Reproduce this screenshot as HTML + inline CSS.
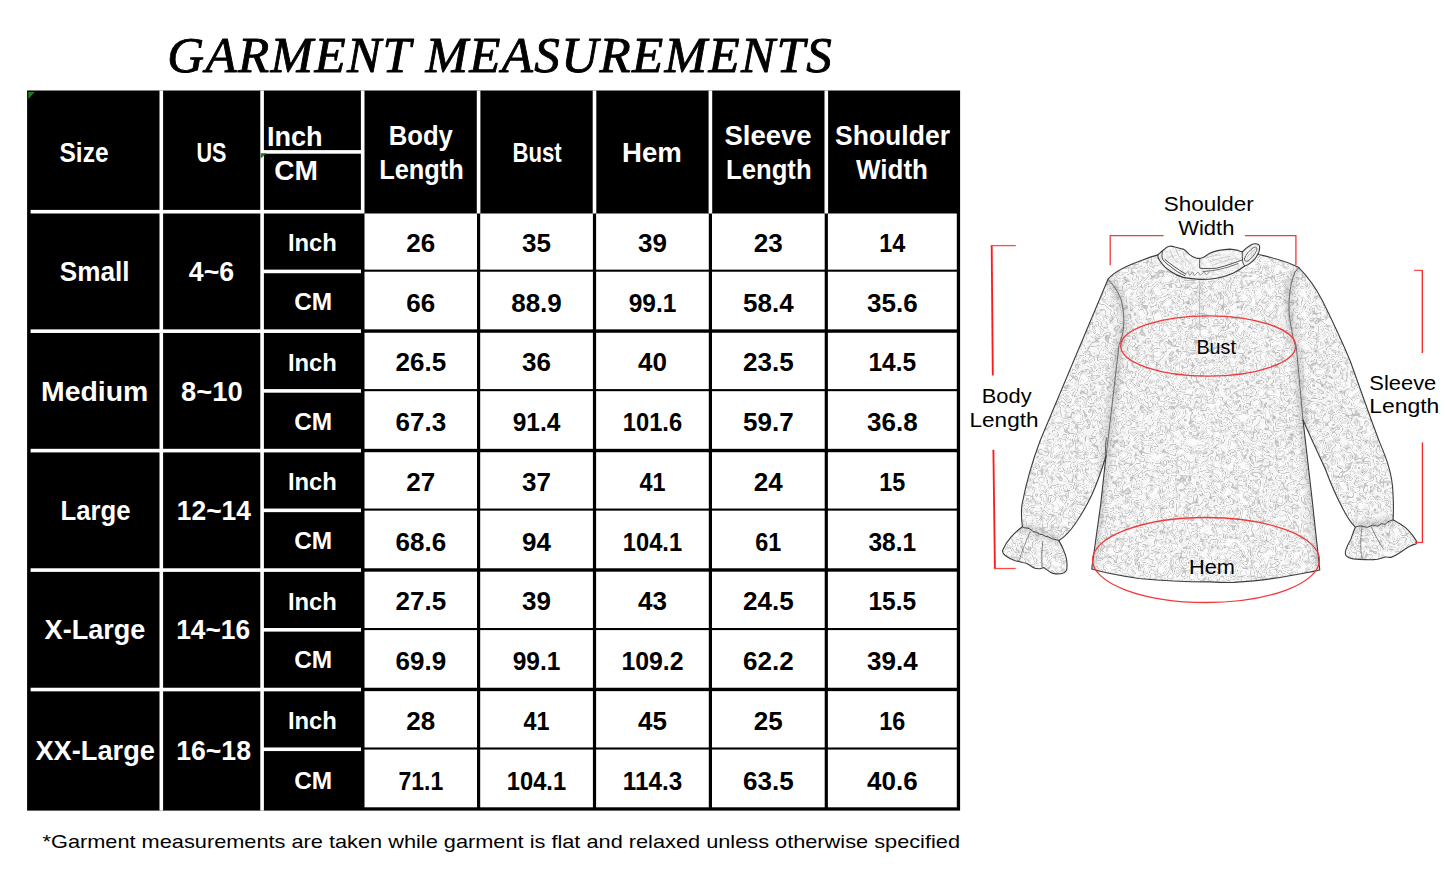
<!DOCTYPE html>
<html><head><meta charset="utf-8"><title>Garment Measurements</title>
<style>
html,body{margin:0;padding:0;background:#fff;}
body{width:1445px;height:893px;overflow:hidden;position:relative;font-family:"Liberation Sans",sans-serif;}
svg{position:absolute;left:0;top:0;}
svg text{font-family:"Liberation Sans",sans-serif;}
svg text.ser{font-family:"Liberation Serif",serif;}
</style></head><body>
<svg width="1445" height="893" viewBox="0 0 1445 893">
<text class="ser" x="167.2" y="72.2" font-size="51" font-style="italic" fill="#000" stroke="#000" stroke-width="0.9" stroke-linejoin="round" textLength="664.5" lengthAdjust="spacing">GARMENT MEASUREMENTS</text>
<rect x="27.1" y="90.5" width="933.0" height="720.1" fill="#000"/>
<rect x="159.50" y="90.5" width="3.6" height="720.10" fill="#fff"/>
<rect x="260.30" y="90.5" width="3.6" height="720.10" fill="#fff"/>
<rect x="360.90" y="90.5" width="3.6" height="123.00" fill="#fff"/>
<rect x="476.80" y="90.5" width="3.6" height="123.00" fill="#fff"/>
<rect x="592.70" y="90.5" width="3.6" height="123.00" fill="#fff"/>
<rect x="708.60" y="90.5" width="3.6" height="123.00" fill="#fff"/>
<rect x="824.50" y="90.5" width="3.6" height="123.00" fill="#fff"/>
<rect x="262.10" y="150.10" width="100.60" height="3.6" fill="#fff"/>
<rect x="30.60" y="209.90" width="330.40" height="3.6" fill="#fff"/>
<rect x="262.10" y="269.63" width="98.90" height="3.6" fill="#fff"/>
<rect x="30.60" y="329.36" width="330.40" height="3.6" fill="#fff"/>
<rect x="262.10" y="389.09" width="98.90" height="3.6" fill="#fff"/>
<rect x="30.60" y="448.82" width="330.40" height="3.6" fill="#fff"/>
<rect x="262.10" y="508.55" width="98.90" height="3.6" fill="#fff"/>
<rect x="30.60" y="568.28" width="330.40" height="3.6" fill="#fff"/>
<rect x="262.10" y="628.01" width="98.90" height="3.6" fill="#fff"/>
<rect x="30.60" y="687.74" width="330.40" height="3.6" fill="#fff"/>
<rect x="262.10" y="747.47" width="98.90" height="3.6" fill="#fff"/>
<rect x="364.50" y="213.50" width="112.50" height="56.13" fill="#fff"/>
<rect x="480.20" y="213.50" width="112.70" height="56.13" fill="#fff"/>
<rect x="596.10" y="213.50" width="112.70" height="56.13" fill="#fff"/>
<rect x="712.00" y="213.50" width="112.70" height="56.13" fill="#fff"/>
<rect x="827.90" y="213.50" width="128.90" height="56.13" fill="#fff"/>
<rect x="364.50" y="271.73" width="112.50" height="57.63" fill="#fff"/>
<rect x="480.20" y="271.73" width="112.70" height="57.63" fill="#fff"/>
<rect x="596.10" y="271.73" width="112.70" height="57.63" fill="#fff"/>
<rect x="712.00" y="271.73" width="112.70" height="57.63" fill="#fff"/>
<rect x="827.90" y="271.73" width="128.90" height="57.63" fill="#fff"/>
<rect x="364.50" y="332.76" width="112.50" height="56.33" fill="#fff"/>
<rect x="480.20" y="332.76" width="112.70" height="56.33" fill="#fff"/>
<rect x="596.10" y="332.76" width="112.70" height="56.33" fill="#fff"/>
<rect x="712.00" y="332.76" width="112.70" height="56.33" fill="#fff"/>
<rect x="827.90" y="332.76" width="128.90" height="56.33" fill="#fff"/>
<rect x="364.50" y="391.19" width="112.50" height="57.63" fill="#fff"/>
<rect x="480.20" y="391.19" width="112.70" height="57.63" fill="#fff"/>
<rect x="596.10" y="391.19" width="112.70" height="57.63" fill="#fff"/>
<rect x="712.00" y="391.19" width="112.70" height="57.63" fill="#fff"/>
<rect x="827.90" y="391.19" width="128.90" height="57.63" fill="#fff"/>
<rect x="364.50" y="452.22" width="112.50" height="56.33" fill="#fff"/>
<rect x="480.20" y="452.22" width="112.70" height="56.33" fill="#fff"/>
<rect x="596.10" y="452.22" width="112.70" height="56.33" fill="#fff"/>
<rect x="712.00" y="452.22" width="112.70" height="56.33" fill="#fff"/>
<rect x="827.90" y="452.22" width="128.90" height="56.33" fill="#fff"/>
<rect x="364.50" y="510.65" width="112.50" height="57.63" fill="#fff"/>
<rect x="480.20" y="510.65" width="112.70" height="57.63" fill="#fff"/>
<rect x="596.10" y="510.65" width="112.70" height="57.63" fill="#fff"/>
<rect x="712.00" y="510.65" width="112.70" height="57.63" fill="#fff"/>
<rect x="827.90" y="510.65" width="128.90" height="57.63" fill="#fff"/>
<rect x="364.50" y="571.68" width="112.50" height="56.33" fill="#fff"/>
<rect x="480.20" y="571.68" width="112.70" height="56.33" fill="#fff"/>
<rect x="596.10" y="571.68" width="112.70" height="56.33" fill="#fff"/>
<rect x="712.00" y="571.68" width="112.70" height="56.33" fill="#fff"/>
<rect x="827.90" y="571.68" width="128.90" height="56.33" fill="#fff"/>
<rect x="364.50" y="630.11" width="112.50" height="57.63" fill="#fff"/>
<rect x="480.20" y="630.11" width="112.70" height="57.63" fill="#fff"/>
<rect x="596.10" y="630.11" width="112.70" height="57.63" fill="#fff"/>
<rect x="712.00" y="630.11" width="112.70" height="57.63" fill="#fff"/>
<rect x="827.90" y="630.11" width="128.90" height="57.63" fill="#fff"/>
<rect x="364.50" y="691.14" width="112.50" height="56.33" fill="#fff"/>
<rect x="480.20" y="691.14" width="112.70" height="56.33" fill="#fff"/>
<rect x="596.10" y="691.14" width="112.70" height="56.33" fill="#fff"/>
<rect x="712.00" y="691.14" width="112.70" height="56.33" fill="#fff"/>
<rect x="827.90" y="691.14" width="128.90" height="56.33" fill="#fff"/>
<rect x="364.50" y="749.57" width="112.50" height="57.73" fill="#fff"/>
<rect x="480.20" y="749.57" width="112.70" height="57.73" fill="#fff"/>
<rect x="596.10" y="749.57" width="112.70" height="57.73" fill="#fff"/>
<rect x="712.00" y="749.57" width="112.70" height="57.73" fill="#fff"/>
<rect x="827.90" y="749.57" width="128.90" height="57.73" fill="#fff"/>
<path d="M28.3 92 L34.8 92 L28.3 99 Z" fill="#1f7a1f"/>
<path d="M260.6 153.2 L266.5 153.2 L260.6 158.5 Z" fill="#1f7a1f"/>
<text x="84.0" y="162.0" font-size="27.5" fill="#fff" font-weight="bold" text-anchor="middle" textLength="49.0" lengthAdjust="spacingAndGlyphs">Size</text>
<text x="211.5" y="162.0" font-size="27.5" fill="#fff" font-weight="bold" text-anchor="middle" textLength="30.0" lengthAdjust="spacingAndGlyphs">US</text>
<text x="294.8" y="145.8" font-size="27.5" fill="#fff" font-weight="bold" text-anchor="middle" textLength="55.7" lengthAdjust="spacingAndGlyphs">Inch</text>
<text x="296.1" y="179.8" font-size="27.5" fill="#fff" font-weight="bold" text-anchor="middle" textLength="43.8" lengthAdjust="spacingAndGlyphs">CM</text>
<text x="420.8" y="145.2" font-size="27.5" fill="#fff" font-weight="bold" text-anchor="middle" textLength="64.2" lengthAdjust="spacingAndGlyphs">Body</text>
<text x="421.5" y="179.4" font-size="27.5" fill="#fff" font-weight="bold" text-anchor="middle" textLength="84.7" lengthAdjust="spacingAndGlyphs">Length</text>
<text x="537.1" y="161.8" font-size="27.5" fill="#fff" font-weight="bold" text-anchor="middle" textLength="49.3" lengthAdjust="spacingAndGlyphs">Bust</text>
<text x="652.0" y="162.0" font-size="27.5" fill="#fff" font-weight="bold" text-anchor="middle" textLength="59.8" lengthAdjust="spacingAndGlyphs">Hem</text>
<text x="768.0" y="145.2" font-size="27.5" fill="#fff" font-weight="bold" text-anchor="middle" textLength="87.2" lengthAdjust="spacingAndGlyphs">Sleeve</text>
<text x="768.8" y="179.4" font-size="27.5" fill="#fff" font-weight="bold" text-anchor="middle" textLength="85.6" lengthAdjust="spacingAndGlyphs">Length</text>
<text x="892.5" y="145.2" font-size="27.5" fill="#fff" font-weight="bold" text-anchor="middle" textLength="115.0" lengthAdjust="spacingAndGlyphs">Shoulder</text>
<text x="892.0" y="179.4" font-size="27.5" fill="#fff" font-weight="bold" text-anchor="middle" textLength="72.0" lengthAdjust="spacingAndGlyphs">Width</text>
<text x="94.7" y="281.0" font-size="27.5" fill="#fff" font-weight="bold" text-anchor="middle" textLength="69.7" lengthAdjust="spacingAndGlyphs">Small</text>
<text x="211.5" y="281.0" font-size="27.5" fill="#fff" font-weight="bold" text-anchor="middle" textLength="45.3" lengthAdjust="spacingAndGlyphs">4~6</text>
<text x="312.4" y="251.2" font-size="24" fill="#fff" font-weight="bold" text-anchor="middle" textLength="49.0" lengthAdjust="spacingAndGlyphs">Inch</text>
<text x="313.2" y="310.0" font-size="23" fill="#fff" font-weight="bold" text-anchor="middle" textLength="38.0" lengthAdjust="spacingAndGlyphs">CM</text>
<text x="420.8" y="251.9" font-size="26.5" fill="#000" font-weight="bold" text-anchor="middle" textLength="28.9" lengthAdjust="spacingAndGlyphs">26</text>
<text x="536.5" y="251.9" font-size="26.5" fill="#000" font-weight="bold" text-anchor="middle" textLength="28.9" lengthAdjust="spacingAndGlyphs">35</text>
<text x="652.5" y="251.9" font-size="26.5" fill="#000" font-weight="bold" text-anchor="middle" textLength="28.9" lengthAdjust="spacingAndGlyphs">39</text>
<text x="768.3" y="251.9" font-size="26.5" fill="#000" font-weight="bold" text-anchor="middle" textLength="28.9" lengthAdjust="spacingAndGlyphs">23</text>
<text x="892.3" y="251.9" font-size="26.5" fill="#000" font-weight="bold" text-anchor="middle" textLength="26.0" lengthAdjust="spacingAndGlyphs">14</text>
<text x="420.8" y="311.6" font-size="26.5" fill="#000" font-weight="bold" text-anchor="middle" textLength="28.9" lengthAdjust="spacingAndGlyphs">66</text>
<text x="536.5" y="311.6" font-size="26.5" fill="#000" font-weight="bold" text-anchor="middle" textLength="50.6" lengthAdjust="spacingAndGlyphs">88.9</text>
<text x="652.5" y="311.6" font-size="26.5" fill="#000" font-weight="bold" text-anchor="middle" textLength="47.7" lengthAdjust="spacingAndGlyphs">99.1</text>
<text x="768.3" y="311.6" font-size="26.5" fill="#000" font-weight="bold" text-anchor="middle" textLength="50.6" lengthAdjust="spacingAndGlyphs">58.4</text>
<text x="892.3" y="311.6" font-size="26.5" fill="#000" font-weight="bold" text-anchor="middle" textLength="50.6" lengthAdjust="spacingAndGlyphs">35.6</text>
<text x="94.6" y="400.5" font-size="27.5" fill="#fff" font-weight="bold" text-anchor="middle" textLength="107.2" lengthAdjust="spacingAndGlyphs">Medium</text>
<text x="211.8" y="400.5" font-size="27.5" fill="#fff" font-weight="bold" text-anchor="middle" textLength="61.6" lengthAdjust="spacingAndGlyphs">8~10</text>
<text x="312.4" y="370.6" font-size="24" fill="#fff" font-weight="bold" text-anchor="middle" textLength="49.0" lengthAdjust="spacingAndGlyphs">Inch</text>
<text x="313.2" y="429.5" font-size="23" fill="#fff" font-weight="bold" text-anchor="middle" textLength="38.0" lengthAdjust="spacingAndGlyphs">CM</text>
<text x="420.8" y="371.3" font-size="26.5" fill="#000" font-weight="bold" text-anchor="middle" textLength="50.6" lengthAdjust="spacingAndGlyphs">26.5</text>
<text x="536.5" y="371.3" font-size="26.5" fill="#000" font-weight="bold" text-anchor="middle" textLength="28.9" lengthAdjust="spacingAndGlyphs">36</text>
<text x="652.5" y="371.3" font-size="26.5" fill="#000" font-weight="bold" text-anchor="middle" textLength="28.9" lengthAdjust="spacingAndGlyphs">40</text>
<text x="768.3" y="371.3" font-size="26.5" fill="#000" font-weight="bold" text-anchor="middle" textLength="50.6" lengthAdjust="spacingAndGlyphs">23.5</text>
<text x="892.3" y="371.3" font-size="26.5" fill="#000" font-weight="bold" text-anchor="middle" textLength="47.7" lengthAdjust="spacingAndGlyphs">14.5</text>
<text x="420.8" y="431.1" font-size="26.5" fill="#000" font-weight="bold" text-anchor="middle" textLength="50.6" lengthAdjust="spacingAndGlyphs">67.3</text>
<text x="536.5" y="431.1" font-size="26.5" fill="#000" font-weight="bold" text-anchor="middle" textLength="47.7" lengthAdjust="spacingAndGlyphs">91.4</text>
<text x="652.5" y="431.1" font-size="26.5" fill="#000" font-weight="bold" text-anchor="middle" textLength="59.3" lengthAdjust="spacingAndGlyphs">101.6</text>
<text x="768.3" y="431.1" font-size="26.5" fill="#000" font-weight="bold" text-anchor="middle" textLength="50.6" lengthAdjust="spacingAndGlyphs">59.7</text>
<text x="892.3" y="431.1" font-size="26.5" fill="#000" font-weight="bold" text-anchor="middle" textLength="50.6" lengthAdjust="spacingAndGlyphs">36.8</text>
<text x="95.6" y="519.9" font-size="27.5" fill="#fff" font-weight="bold" text-anchor="middle" textLength="70.0" lengthAdjust="spacingAndGlyphs">Large</text>
<text x="213.9" y="519.9" font-size="27.5" fill="#fff" font-weight="bold" text-anchor="middle" textLength="74.2" lengthAdjust="spacingAndGlyphs">12~14</text>
<text x="312.4" y="490.1" font-size="24" fill="#fff" font-weight="bold" text-anchor="middle" textLength="49.0" lengthAdjust="spacingAndGlyphs">Inch</text>
<text x="313.2" y="548.9" font-size="23" fill="#fff" font-weight="bold" text-anchor="middle" textLength="38.0" lengthAdjust="spacingAndGlyphs">CM</text>
<text x="420.8" y="490.8" font-size="26.5" fill="#000" font-weight="bold" text-anchor="middle" textLength="28.9" lengthAdjust="spacingAndGlyphs">27</text>
<text x="536.5" y="490.8" font-size="26.5" fill="#000" font-weight="bold" text-anchor="middle" textLength="28.9" lengthAdjust="spacingAndGlyphs">37</text>
<text x="652.5" y="490.8" font-size="26.5" fill="#000" font-weight="bold" text-anchor="middle" textLength="26.0" lengthAdjust="spacingAndGlyphs">41</text>
<text x="768.3" y="490.8" font-size="26.5" fill="#000" font-weight="bold" text-anchor="middle" textLength="28.9" lengthAdjust="spacingAndGlyphs">24</text>
<text x="892.3" y="490.8" font-size="26.5" fill="#000" font-weight="bold" text-anchor="middle" textLength="26.0" lengthAdjust="spacingAndGlyphs">15</text>
<text x="420.8" y="550.5" font-size="26.5" fill="#000" font-weight="bold" text-anchor="middle" textLength="50.6" lengthAdjust="spacingAndGlyphs">68.6</text>
<text x="536.5" y="550.5" font-size="26.5" fill="#000" font-weight="bold" text-anchor="middle" textLength="28.9" lengthAdjust="spacingAndGlyphs">94</text>
<text x="652.5" y="550.5" font-size="26.5" fill="#000" font-weight="bold" text-anchor="middle" textLength="59.3" lengthAdjust="spacingAndGlyphs">104.1</text>
<text x="768.3" y="550.5" font-size="26.5" fill="#000" font-weight="bold" text-anchor="middle" textLength="26.0" lengthAdjust="spacingAndGlyphs">61</text>
<text x="892.3" y="550.5" font-size="26.5" fill="#000" font-weight="bold" text-anchor="middle" textLength="47.7" lengthAdjust="spacingAndGlyphs">38.1</text>
<text x="95.0" y="639.4" font-size="27.5" fill="#fff" font-weight="bold" text-anchor="middle" textLength="100.8" lengthAdjust="spacingAndGlyphs">X-Large</text>
<text x="213.1" y="639.4" font-size="27.5" fill="#fff" font-weight="bold" text-anchor="middle" textLength="73.9" lengthAdjust="spacingAndGlyphs">14~16</text>
<text x="312.4" y="609.5" font-size="24" fill="#fff" font-weight="bold" text-anchor="middle" textLength="49.0" lengthAdjust="spacingAndGlyphs">Inch</text>
<text x="313.2" y="668.4" font-size="23" fill="#fff" font-weight="bold" text-anchor="middle" textLength="38.0" lengthAdjust="spacingAndGlyphs">CM</text>
<text x="420.8" y="610.2" font-size="26.5" fill="#000" font-weight="bold" text-anchor="middle" textLength="50.6" lengthAdjust="spacingAndGlyphs">27.5</text>
<text x="536.5" y="610.2" font-size="26.5" fill="#000" font-weight="bold" text-anchor="middle" textLength="28.9" lengthAdjust="spacingAndGlyphs">39</text>
<text x="652.5" y="610.2" font-size="26.5" fill="#000" font-weight="bold" text-anchor="middle" textLength="28.9" lengthAdjust="spacingAndGlyphs">43</text>
<text x="768.3" y="610.2" font-size="26.5" fill="#000" font-weight="bold" text-anchor="middle" textLength="50.6" lengthAdjust="spacingAndGlyphs">24.5</text>
<text x="892.3" y="610.2" font-size="26.5" fill="#000" font-weight="bold" text-anchor="middle" textLength="47.7" lengthAdjust="spacingAndGlyphs">15.5</text>
<text x="420.8" y="670.0" font-size="26.5" fill="#000" font-weight="bold" text-anchor="middle" textLength="50.6" lengthAdjust="spacingAndGlyphs">69.9</text>
<text x="536.5" y="670.0" font-size="26.5" fill="#000" font-weight="bold" text-anchor="middle" textLength="47.7" lengthAdjust="spacingAndGlyphs">99.1</text>
<text x="652.5" y="670.0" font-size="26.5" fill="#000" font-weight="bold" text-anchor="middle" textLength="62.2" lengthAdjust="spacingAndGlyphs">109.2</text>
<text x="768.3" y="670.0" font-size="26.5" fill="#000" font-weight="bold" text-anchor="middle" textLength="50.6" lengthAdjust="spacingAndGlyphs">62.2</text>
<text x="892.3" y="670.0" font-size="26.5" fill="#000" font-weight="bold" text-anchor="middle" textLength="50.6" lengthAdjust="spacingAndGlyphs">39.4</text>
<text x="95.2" y="759.7" font-size="27.5" fill="#fff" font-weight="bold" text-anchor="middle" textLength="119.6" lengthAdjust="spacingAndGlyphs">XX-Large</text>
<text x="213.6" y="759.7" font-size="27.5" fill="#fff" font-weight="bold" text-anchor="middle" textLength="74.8" lengthAdjust="spacingAndGlyphs">16~18</text>
<text x="312.4" y="729.0" font-size="24" fill="#fff" font-weight="bold" text-anchor="middle" textLength="49.0" lengthAdjust="spacingAndGlyphs">Inch</text>
<text x="313.2" y="788.6" font-size="23" fill="#fff" font-weight="bold" text-anchor="middle" textLength="38.0" lengthAdjust="spacingAndGlyphs">CM</text>
<text x="420.8" y="729.7" font-size="26.5" fill="#000" font-weight="bold" text-anchor="middle" textLength="28.9" lengthAdjust="spacingAndGlyphs">28</text>
<text x="536.5" y="729.7" font-size="26.5" fill="#000" font-weight="bold" text-anchor="middle" textLength="26.0" lengthAdjust="spacingAndGlyphs">41</text>
<text x="652.5" y="729.7" font-size="26.5" fill="#000" font-weight="bold" text-anchor="middle" textLength="28.9" lengthAdjust="spacingAndGlyphs">45</text>
<text x="768.3" y="729.7" font-size="26.5" fill="#000" font-weight="bold" text-anchor="middle" textLength="28.9" lengthAdjust="spacingAndGlyphs">25</text>
<text x="892.3" y="729.7" font-size="26.5" fill="#000" font-weight="bold" text-anchor="middle" textLength="26.0" lengthAdjust="spacingAndGlyphs">16</text>
<text x="420.8" y="790.2" font-size="26.5" fill="#000" font-weight="bold" text-anchor="middle" textLength="44.8" lengthAdjust="spacingAndGlyphs">71.1</text>
<text x="536.5" y="790.2" font-size="26.5" fill="#000" font-weight="bold" text-anchor="middle" textLength="59.3" lengthAdjust="spacingAndGlyphs">104.1</text>
<text x="652.5" y="790.2" font-size="26.5" fill="#000" font-weight="bold" text-anchor="middle" textLength="59.3" lengthAdjust="spacingAndGlyphs">114.3</text>
<text x="768.3" y="790.2" font-size="26.5" fill="#000" font-weight="bold" text-anchor="middle" textLength="50.6" lengthAdjust="spacingAndGlyphs">63.5</text>
<text x="892.3" y="790.2" font-size="26.5" fill="#000" font-weight="bold" text-anchor="middle" textLength="50.6" lengthAdjust="spacingAndGlyphs">40.6</text>
<text x="42.5" y="848.4" font-size="19" fill="#000" textLength="917.5" lengthAdjust="spacingAndGlyphs">*Garment measurements are taken while garment is flat and relaxed unless otherwise specified</text>
<defs>
<filter id="lace" x="0" y="0" width="100%" height="100%" color-interpolation-filters="sRGB">
<feTurbulence type="fractalNoise" baseFrequency="0.08" numOctaves="2" seed="7" result="n"/>
<feColorMatrix in="n" type="matrix" values="1 0 0 0 0  1 0 0 0 0  1 0 0 0 0  0 0 0 0 1" result="g"/>
<feComponentTransfer in="g" result="c">
<feFuncR type="table" tableValues="0.985 0.985 0.985 0.985 0.985 0.985 0.985 0.985 0.985 0.985 0.985 0.985 0.985 0.985 0.82 0.985 0.96 0.985 0.74 0.985 0.985 0.94 0.985 0.74 0.985 0.96 0.985 0.82 0.985 0.985 0.985 0.985 0.985 0.985 0.985 0.985 0.985 0.985 0.985 0.985 0.985"/>
<feFuncG type="table" tableValues="0.985 0.985 0.985 0.985 0.985 0.985 0.985 0.985 0.985 0.985 0.985 0.985 0.985 0.985 0.82 0.985 0.96 0.985 0.74 0.985 0.985 0.94 0.985 0.74 0.985 0.96 0.985 0.82 0.985 0.985 0.985 0.985 0.985 0.985 0.985 0.985 0.985 0.985 0.985 0.985 0.985"/>
<feFuncB type="table" tableValues="0.985 0.985 0.985 0.985 0.985 0.985 0.985 0.985 0.985 0.985 0.985 0.985 0.985 0.985 0.82 0.985 0.96 0.985 0.74 0.985 0.985 0.94 0.985 0.74 0.985 0.96 0.985 0.82 0.985 0.985 0.985 0.985 0.985 0.985 0.985 0.985 0.985 0.985 0.985 0.985 0.985"/>
</feComponentTransfer>
<feTurbulence type="fractalNoise" baseFrequency="0.5" numOctaves="2" seed="11" result="n2"/>
<feColorMatrix in="n2" type="matrix" values="0 0 0 0 0.3  0 0 0 0 0.3  0 0 0 0 0.3  6 0 0 0 -4.7" result="sp"/>
<feTurbulence type="fractalNoise" baseFrequency="0.2" numOctaves="2" seed="23" result="n3"/>
<feColorMatrix in="n3" type="matrix" values="0 0 0 0 0.6  0 0 0 0 0.6  0 0 0 0 0.6  1.4 0 0 0 -0.75" result="bl"/>
<feComposite in="bl" in2="c" operator="over" result="c2"/>
<feComposite in="sp" in2="c2" operator="over" result="m"/>
<feComposite in="m" in2="SourceGraphic" operator="in"/>
</filter>
<path id="gbody" d="M1157.9 254.9 C1150 257 1143 260 1140.2 261 C1126 266 1114 272 1108 279.2 C1116 288 1121 296 1122.5 306 C1125 320 1124 334 1119 345 L1108 440 L1106 456 L1100.6 505 L1091.7 569 C1105 573 1122 576 1139 578.5 C1165 581 1190 582 1210 581.9 C1220 582.5 1228 582.6 1233.6 582.4 C1255 581 1275 578.5 1289.6 575.7 C1300 574 1311 572 1319.8 570 L1312 498.4 L1303 420 L1296.4 347.6 C1293 340 1292.5 335 1292 331 C1289 318 1288.5 308 1289.3 298 C1290 288 1292 279 1295 272 L1298.8 267.6 C1288 261.5 1272 257.5 1258.8 254.5 L1258 254.1 C1257 256 1255.9 257.6 1254.7 259.1 C1252.9 261.1 1250.9 262.8 1248.8 264.1 C1247.5 264.9 1246.1 265.5 1244.7 266 C1241 269 1237 271.3 1233 273.2 C1227.7 275.5 1222.1 277.2 1216.4 278.2 C1211 279.1 1205.4 279.5 1199.8 279.4 C1194.2 279.2 1188.6 278.6 1183.2 277.4 C1178.7 276.2 1174.5 274.2 1170.8 271.5 C1167 269.3 1163.9 266.5 1161.6 263.2 C1159.9 261.2 1158.6 259.2 1157.9 257 Z"/>
<path id="gsl" d="M1108 279.2 L1048.8 420 L1040.4 440 C1032 462 1026 484 1021.9 505 C1021 513 1021.5 520 1022.4 526.8 C1018 530 1014 533.5 1010.7 537.4 C1007 541.5 1004.5 546 1002.4 550.8 C1002.6 552.8 1003.6 554.4 1005.2 555.5 C1008 557.6 1011.2 559.2 1014.6 560.5 C1018.5 561.7 1022.5 562.3 1026.3 563.3 C1028.8 564.3 1030.6 566 1032.6 567.2 C1034.6 568.3 1036.8 568.8 1038.9 568.8 C1040.6 568.7 1042 567.8 1043.6 567.6 C1045.8 568.6 1047.8 570.6 1049.9 571.9 C1051.8 573 1054 573.7 1056.1 573.9 C1058.8 574 1061.6 573.7 1064 572.7 C1065.4 572 1066.4 570.9 1066.7 569.6 C1067.2 566.5 1067.1 563.3 1066.7 560.2 C1066 556.4 1064.8 552.7 1063.2 549.2 C1062 546.2 1060.5 543.300 1058.9 540.6 C1066 536 1071 530 1075 524 C1082 514 1087 505 1092 494.5 C1098 481 1102 469 1106 456 L1108 440 L1119 345 C1124 334 1125 320 1122.5 306 C1121 296 1116 288 1108 279.2 Z"/>
<path id="gsr" d="M1298.8 267.6 C1308 277 1316 288 1322.3 300.5 C1332 320 1342 341 1350.5 361.7 L1371.3 420 L1378.7 440 C1382 448 1385.5 456 1388.1 464.8 C1391 474 1392.8 484 1393 494 C1393.6 503 1393.5 512 1393.1 519.9 C1395 520.6 1396.6 521.8 1398.2 522.8 C1400.8 524.2 1403.2 525.8 1405.5 527.6 C1408.2 530 1410.6 532.7 1412.8 535.6 C1414.3 537.6 1415.7 539.6 1416.8 541.8 C1417 542.7 1416.7 543.4 1416.1 543.9 C1413.7 544.5 1411.3 545.3 1409.1 546.5 C1405.3 548.7 1401.8 551.4 1398.2 553.8 C1396 555.3 1393.5 556.6 1390.9 557.4 C1389 557.5 1387 556.8 1385.1 557 C1382.7 557.8 1380.3 558.7 1377.8 559.2 C1373.7 559.7 1369.6 559.8 1365.5 559.6 C1361.3 559.6 1357.2 559.4 1353.1 558.9 C1350.5 558.4 1347.9 557.5 1346.2 555.9 C1345.2 554.2 1345.2 552 1345.8 550.1 C1347 546.2 1348.8 542.6 1350.9 539.2 C1352.2 535.1 1353.6 531 1355.3 527.2 C1350 522 1346.5 516 1343.3 509.6 C1336 496 1330.5 483 1325.4 469.3 C1318 453 1310 436 1303 420 L1296.4 347.6 C1293 340 1292.5 335 1292 331 C1289 318 1288.5 308 1289.3 298 C1290 288 1292 279 1295 272 Z"/>
<path id="gcol" d="M1157.9 254.9 C1160 252.5 1162.5 250.5 1165 248.7 C1166.5 247.3 1168 246.4 1169.5 246.2 C1171.5 246 1173.3 246.5 1174.9 247 C1177.8 247.8 1180.5 248.3 1183.2 249.1 C1185.5 250.3 1187.2 252.3 1189 254.1 C1191.2 256 1193.7 257.7 1196.5 258.3 C1198.8 258.6 1201 258.2 1203.2 257.4 C1205.5 256.2 1207.6 254.6 1209.8 253.3 C1212.6 251.9 1215.7 251 1218.9 250.4 C1222.4 249.7 1226 249.2 1229.7 249.1 C1232.6 249.2 1235.4 249.7 1238 250.4 L1242.2 252 C1244.5 249.7 1247 247.5 1249.7 245.8 C1251.3 244.7 1253 243.8 1254.7 243.7 C1257.5 243.6 1259.5 244.8 1259.6 246.6 C1259.8 249.3 1259.2 251.8 1258 254.1 C1257 256 1255.9 257.6 1254.7 259.1 C1252.9 261.1 1250.9 262.8 1248.8 264.1 C1247.5 264.9 1246.1 265.5 1244.7 266 C1241 269 1237 271.3 1233 273.2 C1227.7 275.5 1222.1 277.2 1216.4 278.2 C1211 279.1 1205.4 279.5 1199.8 279.4 C1194.2 279.2 1188.6 278.6 1183.2 277.4 C1178.7 276.2 1174.5 274.2 1170.8 271.5 C1167 269.3 1163.9 266.5 1161.6 263.2 C1159.9 261.2 1158.6 259.2 1157.9 257 Z"/>
</defs>
<clipPath id="gclip"><use href="#gbody"/><use href="#gsl"/><use href="#gsr"/></clipPath>
<filter id="blr" x="-20%" y="-20%" width="140%" height="140%"><feGaussianBlur stdDeviation="3"/></filter>
<g filter="url(#lace)">
<use href="#gbody" fill="#eee"/><use href="#gsl" fill="#eee"/><use href="#gsr" fill="#eee"/>
</g>
<g clip-path="url(#gclip)"><g filter="url(#blr)" fill="none" stroke="#777" stroke-opacity="0.32" stroke-width="7" stroke-linecap="round">
<path d="M1108 279.2 C1116 288 1121 296 1122.5 306 C1125 320 1124 334 1119 345 L1108 440 L1100.6 505 L1091.7 569"/>
<path d="M1295 272 C1292 279 1290 288 1289.3 298 C1288.5 308 1289 318 1292 331 C1292.5 335 1293 340 1296.4 347.6 L1303 420 L1312 498.4 L1319.8 570"/>
<path d="M1199 284 L1200 320" stroke-width="3" stroke-opacity="0.18"/>
<path d="M1022.4 526.8 L1058.9 540.6"/><path d="M1355.3 527.2 L1393.1 519.9"/>
</g></g>
<use href="#gcol" fill="#fafafa"/><g opacity="0.55"><use href="#gcol" fill="#eee" filter="url(#lace)"/></g>
<g fill="none" stroke="#bbb" stroke-width="0.7" stroke-linecap="round">
<path d="M1170 250 C1171 255 1174 260 1178 263"/><path d="M1176 249 C1177 254 1180 259 1184 262"/><path d="M1183 252 C1184 257 1187 261 1191 264"/>
<path d="M1206 258 C1211 256 1216 255 1221 255"/><path d="M1210 262 C1216 259 1223 257 1230 256.5"/><path d="M1212 265.5 C1219 262.5 1227 260 1236 258"/>
<path d="M1247 257 C1250 254 1253 251 1256 248"/>
</g>
<g fill="none" stroke="#3c3c3c" stroke-width="1.1" stroke-linejoin="round" stroke-linecap="round">
<use href="#gcol"/>
<path d="M1157.9 254.9 C1150 257 1143 260 1140.2 261 C1126 266 1114 272 1108 279.2 L1048.8 420 L1040.4 440 C1032 462 1026 484 1021.9 505 C1021 513 1021.5 520 1022.4 526.8 C1018 530 1014 533.5 1010.7 537.4 C1007 541.5 1004.5 546 1002.4 550.8 C1002.6 552.8 1003.6 554.4 1005.2 555.5 C1008 557.6 1011.2 559.2 1014.6 560.5 C1018.5 561.7 1022.5 562.3 1026.3 563.3 C1028.8 564.3 1030.6 566 1032.6 567.2 C1034.6 568.3 1036.8 568.8 1038.9 568.8 C1040.6 568.7 1042 567.8 1043.6 567.6 C1045.8 568.6 1047.8 570.6 1049.9 571.9 C1051.8 573 1054 573.7 1056.1 573.9 C1058.8 574 1061.6 573.7 1064 572.7 C1065.4 572 1066.4 570.9 1066.7 569.6 C1067.2 566.5 1067.1 563.3 1066.7 560.2 C1066 556.4 1064.8 552.7 1063.2 549.2 C1062 546.2 1060.5 543.300 1058.9 540.6 C1066 536 1071 530 1075 524 C1082 514 1087 505 1092 494.5 C1098 481 1102 469 1106 456"/>
<path d="M1258 254.1 L1258.8 254.5 C1272 257.5 1288 261.5 1298.800 267.6 C1308 277 1316 288 1322.3 300.5 C1332 320 1342 341 1350.5 361.7 L1371.3 420 L1378.7 440 C1382 448 1385.5 456 1388.1 464.8 C1391 474 1392.8 484 1393 494 C1393.6 503 1393.5 512 1393.1 519.9 C1395 520.6 1396.6 521.8 1398.2 522.8 C1400.8 524.2 1403.2 525.8 1405.5 527.6 C1408.2 530 1410.6 532.7 1412.8 535.6 C1414.3 537.6 1415.7 539.6 1416.8 541.8 C1417 542.7 1416.7 543.4 1416.1 543.9 C1413.7 544.5 1411.3 545.3 1409.1 546.5 C1405.3 548.7 1401.8 551.4 1398.2 553.8 C1396 555.3 1393.5 556.6 1390.9 557.4 C1389 557.5 1387 556.8 1385.1 557 C1382.7 557.8 1380.3 558.7 1377.8 559.2 C1373.7 559.7 1369.6 559.8 1365.5 559.6 C1361.3 559.6 1357.2 559.4 1353.1 558.9 C1350.5 558.4 1347.9 557.5 1346.2 555.9 C1345.2 554.2 1345.2 552 1345.8 550.1 C1347 546.2 1348.8 542.6 1350.9 539.2 C1352.2 535.1 1353.6 531 1355.3 527.2 C1350 522 1346.5 516 1343.3 509.6 C1336 496 1330.5 483 1325.4 469.3 C1318 453 1310 436 1303 420"/>
<path d="M1106 456 L1100.6 505 L1091.7 569 C1105 573 1122 576 1139 578.5 C1165 581 1190 582 1210 581.9 C1220 582.5 1228 582.6 1233.6 582.4 C1255 581 1275 578.5 1289.6 575.7 C1300 574 1311 572 1319.8 570 L1312 498.4 L1303 420"/>
<path d="M1108 279.2 C1116 288 1121 296 1122.5 306 C1125 320 1124 334 1119 345 L1108 440 L1106 456" stroke-width="0.85" stroke="#5a5a5a"/>
<path d="M1298.8 267.6 L1295 272 C1292 279 1290 288 1289.3 298 C1288.5 308 1289 318 1292 331 C1292.5 335 1293 340 1296.4 347.6 L1303 420" stroke-width="0.85" stroke="#5a5a5a"/>
<path d="M1162.5 251.6 C1161.8 254 1161.8 256.8 1162.5 259 C1164.5 262 1167.5 264.5 1170.8 266.6 C1175 270.5 1180 273.5 1184.9 275.7" stroke-width="0.9"/>
<path d="M1165 259.5 C1171 264.5 1178 269.5 1185.7 274" stroke-width="0.9"/>
<path d="M1185.7 274 L1187.8 271.5 L1189.8 275.3 L1192.6 271.8 L1194.5 275.6 L1198 272 L1200.5 275.2 L1203.5 272.2 L1206.5 274.6 L1209.5 272.2" stroke-width="0.6" stroke="#666"/>
<path d="M1199.8 259.1 C1199.5 262 1199.5 265 1199.8 268.2 C1205 268.8 1211 268.8 1216.4 268.2 C1222 267 1227.7 265.3 1233 263.2 C1236.3 262.2 1239.3 261.1 1242.2 259.9" stroke-width="0.9"/>
<path d="M1203 271.5 C1214 271 1226 268.5 1238 263.5" stroke-width="0.7"/>
<path d="M1242.2 252 C1242.4 255 1242.4 258.5 1242.6 261.6 C1243 263.5 1243.8 265 1244.7 266" stroke-width="0.9"/>
<path d="M1244.5 258.5 C1246 254.5 1249.5 250 1254 247.2 C1256.5 246.6 1257.6 248 1256.6 250.6 C1254.8 254.6 1251.5 258.6 1247.8 261 C1245.6 262 1244.3 261 1244.5 258.5 Z" stroke-width="0.75"/>
<path d="M1022.4 526.8 C1024.5 528.6 1027 527.6 1029.5 528.8 C1032 530 1032.5 532 1035 532 C1037.5 532 1038.5 534.6 1041 534.4 C1043.5 534.2 1044.5 536.6 1047 536.6 C1049.5 536.6 1050.5 538.8 1053 539 C1055 539.2 1057 540 1058.9 540.6" stroke-width="0.95"/>
<path d="M1355.3 527.2 C1357.5 526.2 1359.6 525.8 1361.8 526.1 C1363.8 526.4 1365.7 527.4 1367.7 527.2 C1369.5 526.8 1371 525.4 1372.8 525 C1374.5 525 1376.100 526.3 1377.8 526.1 C1379.2 525.6 1380.2 524.2 1381.5 523.6 C1382.7 523.5 1383.900 524.5 1385.1 524.3 C1386.200 523.600 1387 522.500 1388 521.7 C1389.6 520.900 1391.4 520.4 1393.1 519.9" stroke-width="0.95"/>
<path d="M1042.8 541.3 C1042 549 1041.600 558 1042 566.4" stroke-width="0.6"/>
<path d="M1030 532 C1026 541 1022 551 1019 561" stroke-width="0.5"/>
<path d="M1371.3 526.8 C1374.500 534.500 1379 542 1383.7 549.4" stroke-width="0.6"/>
<path d="M1362 527 C1360.500 537 1360 548 1362 558" stroke-width="0.5"/>
<path d="M1106 456 C1105 449 1105.5 444 1106.5 438" stroke-width="0.8"/>
<path d="M1199.8 281 C1199.2 300 1199.4 318 1200.2 336" stroke-width="0.5" stroke="#999"/>
</g>
<g fill="none" stroke="#ee3a3c" stroke-width="1.3">
<ellipse cx="1208.2" cy="346" rx="87.5" ry="30.1"/>
<ellipse cx="1206" cy="560" rx="113.5" ry="42.5"/>
<path d="M1110.2 265.2 L1110.2 235.7 L1163.6 235.7"/>
<path d="M1244.9 235.7 L1295.9 235.7 L1295.9 265"/>
</g>
<g fill="none" stroke="#ff1a1a">
<path d="M991.7 245.6 L992.8 375.6" stroke-width="1.85"/>
<path d="M990.7 245.6 L1015.8 245.6" stroke-width="1.3" stroke="#ff4a4a"/>
<path d="M993.4 449.7 L994.9 568.8" stroke-width="1.85"/>
<path d="M994 568.5 L1015.7 568.5" stroke-width="1.3" stroke="#ff4a4a"/>
<path d="M1414.1 270.4 L1422.3 270.4" stroke-width="1.3" stroke="#ff4a4a"/>
<path d="M1422.3 270 L1422.3 352.9" stroke-width="1.35" stroke="#f52a2a"/>
<path d="M1422.4 442.4 L1422.4 542.5" stroke-width="1.35" stroke="#f52a2a"/>
<path d="M1415 542.5 L1423 542.5" stroke-width="1.3" stroke="#ff3a3a"/>
</g>
<g fill="#000" font-size="21" text-anchor="middle">
<text x="1208.8" y="211" textLength="90" lengthAdjust="spacingAndGlyphs">Shoulder</text>
<text x="1206.3" y="235" textLength="56.2" lengthAdjust="spacingAndGlyphs">Width</text>
<text x="1216.2" y="353.5" textLength="39.5" lengthAdjust="spacingAndGlyphs">Bust</text>
<text x="1212" y="574" textLength="46" lengthAdjust="spacingAndGlyphs">Hem</text>
<text x="1006.7" y="402.5" textLength="49.8" lengthAdjust="spacingAndGlyphs">Body</text>
<text x="1004" y="426.9" textLength="68.9" lengthAdjust="spacingAndGlyphs">Length</text>
<text x="1402.8" y="389.9" textLength="67" lengthAdjust="spacingAndGlyphs">Sleeve</text>
<text x="1404.3" y="413.4" textLength="70.1" lengthAdjust="spacingAndGlyphs">Length</text>
</g>

</svg>
</body></html>
